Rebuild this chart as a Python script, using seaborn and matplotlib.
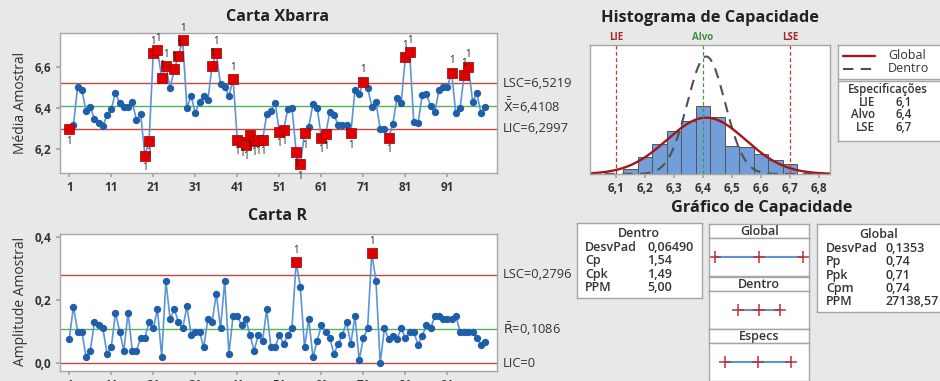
import numpy as np
import pandas as pd
import seaborn as sns
import matplotlib.pyplot as plt
from matplotlib.ticker import FuncFormatter
from matplotlib.transforms import blended_transform_factory

# --- dados ---
subgrupos = list(range(1, 101))

media_amostral = [
    6.297, 6.319, 6.505, 6.489, 6.387, 6.408, 6.346, 6.330, 6.314, 6.367,
    6.395, 6.476, 6.424, 6.408, 6.408, 6.429, 6.343, 6.370, 6.170, 6.242,
    6.667, 6.683, 6.548, 6.605, 6.497, 6.589, 6.654, 6.732, 6.400, 6.461,
    6.375, 6.432, 6.460, 6.440, 6.607, 6.667, 6.516, 6.505, 6.459, 6.540,
    6.245, 6.237, 6.221, 6.270, 6.240, 6.245, 6.245, 6.370, 6.387, 6.427,
    6.286, 6.294, 6.395, 6.403, 6.189, 6.127, 6.278, 6.310, 6.419, 6.403,
    6.257, 6.273, 6.380, 6.367, 6.318, 6.318, 6.318, 6.278, 6.489, 6.468,
    6.529, 6.500, 6.408, 6.429, 6.300, 6.300, 6.254, 6.323, 6.450, 6.424,
    6.650, 6.672, 6.331, 6.326, 6.464, 6.469, 6.410, 6.380, 6.489, 6.505,
    6.505, 6.573, 6.375, 6.400, 6.561, 6.602, 6.432, 6.472, 6.375, 6.408,
]

amplitude_amostral = [
    0.077, 0.179, 0.100, 0.100, 0.020, 0.040, 0.130, 0.120, 0.110, 0.030,
    0.050, 0.160, 0.100, 0.040, 0.160, 0.040, 0.040, 0.080, 0.080, 0.130,
    0.110, 0.170, 0.020, 0.260, 0.140, 0.170, 0.130, 0.110, 0.180, 0.090,
    0.100, 0.100, 0.050, 0.140, 0.130, 0.220, 0.110, 0.260, 0.030, 0.150,
    0.150, 0.120, 0.140, 0.090, 0.040, 0.090, 0.070, 0.170, 0.050, 0.050,
    0.090, 0.060, 0.090, 0.110, 0.320, 0.240, 0.050, 0.140, 0.020, 0.070,
    0.120, 0.100, 0.080, 0.030, 0.060, 0.090, 0.130, 0.060, 0.150, 0.010,
    0.080, 0.110, 0.347, 0.260, 0.000, 0.110, 0.077, 0.087, 0.077, 0.110,
    0.080, 0.100, 0.100, 0.058, 0.087, 0.120, 0.110, 0.150, 0.150, 0.140,
    0.140, 0.140, 0.150, 0.100, 0.100, 0.100, 0.100, 0.080, 0.058, 0.068,
]

lsc_x, media_x, lic_x = 6.5219, 6.4108, 6.2997
lsc_r, media_r, lic_r = 0.2796, 0.1086, 0.0

hist_centros = [6.15, 6.20, 6.25, 6.30, 6.35, 6.40, 6.45, 6.50, 6.55, 6.60, 6.65, 6.70]
hist_densidade = [0.26, 0.91, 1.57, 2.27, 2.77, 3.56, 3.00, 1.48, 1.40, 1.05, 0.73, 0.52]
largura_classe = 0.05

lie, alvo, lse = 6.1, 6.4, 6.7
desvpad_global, desvpad_dentro = 0.1353, 0.06490

stats_dentro = [("DesvPad", "0,06490"), ("Cp", "1,54"), ("Cpk", "1,49"), ("PPM", "5,00")]
stats_global = [("DesvPad", "0,1353"), ("Pp", "0,74"), ("Ppk", "0,71"),
                ("Cpm", "0,74"), ("PPM", "27138,57")]

# --- estilo ---
sns.set_theme(style="white")
plt.rcParams["font.family"] = ["Open Sans", "DejaVu Sans"]
plt.rcParams["mathtext.fontset"] = "dejavusans"

FUNDO = "#E8E8E8"
BORDA = "#A6A6A6"
TEXTO = "#333333"
AZUL = "#1F5FAA"
LINHA_AZUL = "#5B95D6"
VERMELHO = "#E00000"
LIM_VERM = "#C8453F"
VERDE = "#55B255"

W, H = 940, 381
fig = plt.figure(figsize=(W / 100, H / 100), dpi=100, facecolor=FUNDO)


def eixo_px(x0, y0, x1, y1):
    ax = fig.add_axes([x0 / W, 1 - y1 / H, (x1 - x0) / W, (y1 - y0) / H])
    ax.set_facecolor("white")
    for s in ax.spines.values():
        s.set_color(BORDA)
        s.set_linewidth(1)
    return ax


def texto_px(x, y, s, **kw):
    kw.setdefault("color", TEXTO)
    fig.text(x / W, 1 - y / H, s, **kw)


def virgula(fmt):
    return FuncFormatter(lambda v, p: format(v, fmt).replace(".", ","))


def carta(ax, valores, lsc, centro, lic, rotulos):
    df = pd.DataFrame({"sub": subgrupos, "v": valores})
    df["fora"] = (df.v > lsc) | (df.v < lic)
    ax.axhline(lsc, color=LIM_VERM, lw=1)
    ax.axhline(centro, color=VERDE, lw=1)
    ax.axhline(lic, color=LIM_VERM, lw=1)
    sns.lineplot(data=df, x="sub", y="v", ax=ax, color=LINHA_AZUL, lw=1.2,
                 estimator=None, zorder=2)
    sns.scatterplot(data=df[~df.fora], x="sub", y="v", ax=ax, color=AZUL,
                    marker="o", s=28, linewidth=0, zorder=3)
    sns.scatterplot(data=df[df.fora], x="sub", y="v", ax=ax, color=VERMELHO,
                    marker="s", s=58, edgecolor="#9A0000", linewidth=0.5, zorder=4)
    for _, row in df[df.fora].iterrows():
        dy = 4.5 if row.v > lsc else -4.5
        ax.annotate("1", (row["sub"], row.v), xytext=(0, dy), textcoords="offset points",
                    ha="center", va="bottom" if dy > 0 else "top", fontsize=7,
                    color="#222222", zorder=5)
    ax.set_xlim(-1.2, 102.8)
    ax.set_xticks(range(1, 101, 10))
    ax.set_xlabel("")
    ax.set_ylabel("")
    ax.tick_params(axis="both", length=3, color=BORDA, labelsize=8.5, labelcolor=TEXTO,
                   pad=3, bottom=True, left=True)
    for t in ax.get_xticklabels() + ax.get_yticklabels():
        t.set_fontweight("bold")
    tr = blended_transform_factory(ax.transAxes, ax.transData)
    for y, s in zip([lsc, centro, lic], rotulos):
        ax.text(1.014, y, s, transform=tr, va="center", ha="left", fontsize=9.3, color=TEXTO)


# --- Carta Xbarra ---
ax_x = eixo_px(60, 33.3, 497, 172.7)
carta(ax_x, media_amostral, lsc_x, media_x, lic_x,
      ["LSC=6,5219", r"$\bar{\bar{\mathrm{X}}}$=6,4108", "LIC=6,2997"])
ax_x.set_ylim(6.0865, 6.764)
ax_x.set_yticks([6.2, 6.4, 6.6])
ax_x.yaxis.set_major_formatter(virgula(".1f"))
texto_px(278, 17, "Carta Xbarra", ha="center", va="center", fontsize=11.6, fontweight="bold",
         color="#222222")
texto_px(21, 103, "Média Amostral", rotation=90, ha="center", va="center", fontsize=10)

# --- Carta R ---
ax_r = eixo_px(60, 234.3, 497, 371)
carta(ax_r, amplitude_amostral, lsc_r, media_r, lic_r,
      ["LSC=0,2796", r"$\bar{\mathrm{R}}$=0,1086", "LIC=0"])
ax_r.set_ylim(-0.0243, 0.407)
ax_r.set_yticks([0.0, 0.2, 0.4])
ax_r.yaxis.set_major_formatter(virgula(".1f"))
texto_px(278, 216, "Carta R", ha="center", va="center", fontsize=11.6, fontweight="bold",
         color="#222222")
texto_px(21, 301, "Amplitude Amostral", rotation=90, ha="center", va="center", fontsize=10)

# --- Histograma de Capacidade ---
ax_h = eixo_px(590, 45, 830, 174)
df_hist = pd.DataFrame({"centro": hist_centros, "dens": hist_densidade})
sns.histplot(data=df_hist, x="centro", weights="dens", binwidth=largura_classe,
             binrange=(hist_centros[0] - largura_classe / 2, hist_centros[-1] + largura_classe / 2),
             ax=ax_h, color="#729FDA", edgecolor="#555555", linewidth=0.7, alpha=1)
xs = np.linspace(6.0, 6.85, 300)
pdf_global = np.exp(-0.5 * ((xs - media_x) / desvpad_global) ** 2) / (desvpad_global * np.sqrt(2 * np.pi))
pdf_dentro = np.exp(-0.5 * ((xs - media_x) / desvpad_dentro) ** 2) / (desvpad_dentro * np.sqrt(2 * np.pi))
sns.lineplot(x=xs, y=pdf_dentro, ax=ax_h, color="#505050", lw=1.5,
             linestyle=(0, (5, 3.5)), estimator=None)
sns.lineplot(x=xs, y=pdf_global, ax=ax_h, color="#A3161C", lw=1.7, estimator=None)
for v, c in [(lie, "#C0392B"), (alvo, "#3E9B3E"), (lse, "#C0392B")]:
    ax_h.axvline(v, color=c, lw=0.9, ls=(0, (3, 2)))
ax_h.set_xlim(6.0105, 6.837)
ax_h.set_ylim(0, 6.75)
ax_h.set_yticks([])
ax_h.set_ylabel("")
ax_h.set_xlabel("")
ax_h.set_xticks([6.1, 6.2, 6.3, 6.4, 6.5, 6.6, 6.7, 6.8])
ax_h.xaxis.set_major_formatter(virgula(".1f"))
ax_h.tick_params(axis="x", length=3, color=BORDA, labelsize=8.5, labelcolor=TEXTO, pad=3, bottom=True)
for t in ax_h.get_xticklabels():
    t.set_fontweight("bold")
trh = blended_transform_factory(ax_h.transData, ax_h.transAxes)
for v, s, c in [(lie, "LIE", "#A52A2A"), (alvo, "Alvo", "#3E8E3E"), (lse, "LSE", "#A52A2A")]:
    ax_h.text(v, 1.015, s, transform=trh, ha="center", va="bottom", fontsize=7,
              fontweight="bold", color=c)
texto_px(710, 18, "Histograma de Capacidade", ha="center", va="center", fontsize=11.8,
         fontweight="bold", color="#222222")

# legenda
ax_leg = eixo_px(838, 45, 948, 79)
ax_leg.set_xticks([])
ax_leg.set_yticks([])
ax_leg.set_xlim(838, 948)
ax_leg.set_ylim(79, 45)
ax_leg.plot([843, 875], [55.5, 55.5], color="#A3161C", lw=1.7)
ax_leg.plot([843, 875], [68.5, 68.5], color="#505050", lw=1.5, ls=(0, (5, 3.5)))
ax_leg.text(888, 55.5, "Global", va="center", fontsize=9, color=TEXTO)
ax_leg.text(888, 68.5, "Dentro", va="center", fontsize=9, color=TEXTO)

ax_esp = eixo_px(838, 81, 948, 141)
ax_esp.set_xticks([])
ax_esp.set_yticks([])
texto_px(888, 89, "Especificações", ha="center", va="center", fontsize=8.3, fontweight="semibold")
especs = [("LIE", lie), ("Alvo", alvo), ("LSE", lse)]
texto_px(875, 115, "\n".join(n for n, _ in especs), ha="right", va="center",
         multialignment="right", linespacing=0.95, fontsize=8.3, fontweight="semibold")
texto_px(895, 115, "\n".join(format(v, ".1f").replace(".", ",") for _, v in especs),
         ha="left", va="center", linespacing=0.95, fontsize=8.3, fontweight="semibold")

# --- Gráfico de Capacidade ---
texto_px(762, 208, "Gráfico de Capacidade", ha="center", va="center", fontsize=11.8,
         fontweight="bold", color="#222222")


def caixa_stats(x0, y0, x1, y1, titulo, xc, xl, xv, linhas):
    ax = eixo_px(x0, y0, x1, y1)
    ax.set_xticks([])
    ax.set_yticks([])
    texto_px(xc, y0 + 10, titulo, ha="center", va="center", fontsize=9, fontweight="semibold")
    for i, (nome, val) in enumerate(linhas):
        y = y0 + 24 + i * 13.4
        texto_px(xl, y, nome, ha="left", va="center", fontsize=9, fontweight="semibold")
        texto_px(xv, y, val, ha="left", va="center", fontsize=9, fontweight="semibold")


caixa_stats(577.3, 223.3, 701.7, 298.3, "Dentro", 639, 585, 647, stats_dentro)
caixa_stats(817.3, 224.3, 948, 311.7, "Global", 879, 826, 886, stats_global)

intervalos = [
    ("Global", 224.3, media_x - 3 * desvpad_global, media_x, media_x + 3 * desvpad_global),
    ("Dentro", 277.3, media_x - 3 * desvpad_dentro, media_x, media_x + 3 * desvpad_dentro),
    ("Especs", 329.3, lie, alvo, lse),
]
for nome, y0, lo, mid, hi in intervalos:
    cab = eixo_px(709.3, y0, 809.3, y0 + 13.4)
    cab.set_xticks([])
    cab.set_yticks([])
    cab.text(0.5, 0.45, nome, transform=cab.transAxes, ha="center", va="center",
             fontsize=9, fontweight="semibold", color=TEXTO)
    pan = eixo_px(709.3, y0 + 13.4, 809.3, y0 + 52)
    sns.lineplot(x=[lo, hi], y=[0, 0], ax=pan, color=LINHA_AZUL, lw=1.5)
    pan.plot([lo, mid, hi], [0, 0, 0], ls="none", marker="+", ms=8, mew=1.1, color="#C0303A")
    pan.set_xlim(5.9566, 6.87)
    pan.set_ylim(-1, 1)
    pan.set_xticks([])
    pan.set_yticks([])

fig.savefig("out.png", dpi=100, facecolor=FUNDO)
